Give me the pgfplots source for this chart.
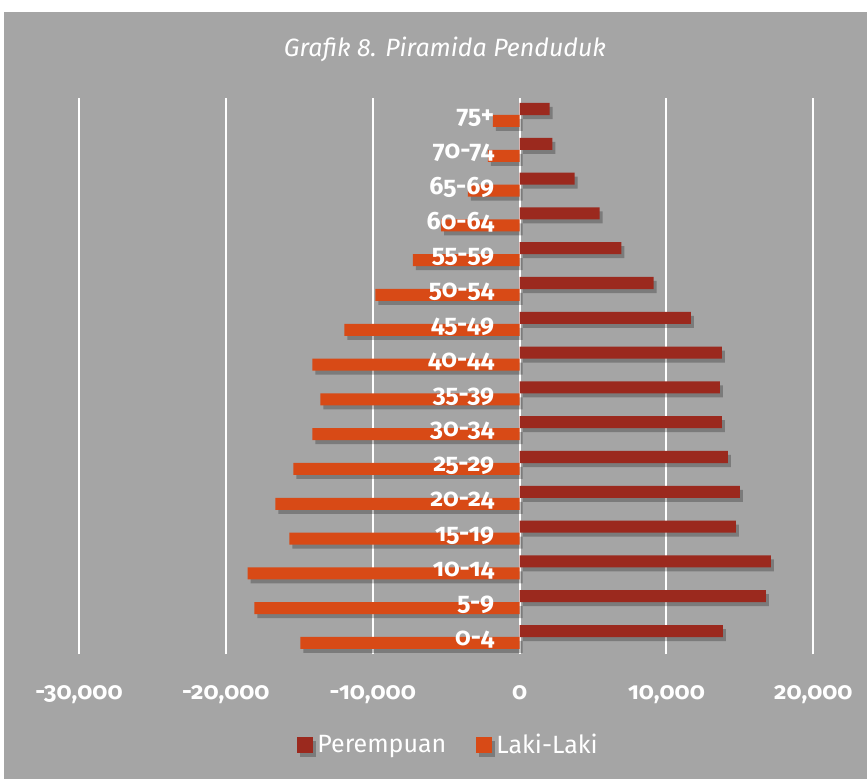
\documentclass[border=0pt]{standalone}
\usepackage{fontspec}
\setmainfont{Fira Sans}[Numbers=OldStyle]
\usepackage{pgfplots}
\pgfplotsset{compat=1.18}
\usetikzlibrary{shadows}
\definecolor{bgray}{HTML}{A5A5A5}
\definecolor{cper}{HTML}{9B291E}
\definecolor{claki}{HTML}{D84A16}
\tikzset{agelab/.style={anchor=east, inner sep=0pt, xshift=-12.5pt, yshift=-1.5pt, font=\bfseries\fontsize{12.5}{14}\selectfont, text=white}}

\begin{document}
\begin{tikzpicture}
\useasboundingbox (0,0) rectangle (433.5pt,389.5pt);
\fill[white] (0,0) rectangle (433.5pt,389.5pt);
\fill[bgray] (2pt,0) rectangle (433.5pt,383.5pt);
\node[font=\itshape\fontsize{12.5}{15}\selectfont, text=white] at (222.5pt,365pt) {Grafik 8. Piramida Penduduk};
\begin{axis}[
    scale only axis,
    width=392.85pt, height=278.4pt,
    at={(39.5pt,62.3pt)}, anchor=south west,
    xmin=-30000, xmax=23500,
    ymin=-0.5, ymax=15.5,
    xbar, bar width=0.345,
    axis line style={draw=none},
    major tick length=0pt,
    xtick={-30000,-20000,...,20000},
    ytick=\empty,
    scaled x ticks=false,
    /pgf/number format/1000 sep={,},
    /pgf/number format/assume math mode=true,
    xmajorgrids,
    grid style={white, line width=1pt},
    xticklabel style={anchor=base, yshift=-22.5pt, font=\bfseries\fontsize{12}{14}\selectfont, text=white},
    legend columns=2,
    legend style={at={(0.4716,-0.1627)}, anchor=center, draw=none, fill=none,
        text=white, font=\fontsize{12.5}{14}\selectfont,
        /tikz/every even column/.append style={column sep=13pt}},
]
% Perempuan
\addplot[bar shift=0.172, fill=cper, draw=none,
    drop shadow={shadow xshift=1.5pt, shadow yshift=-2pt, fill=black, opacity=0.25},
    legend image code/.code={\fill[cper] (-1pt,-4pt) rectangle (7pt,4pt);}] coordinates {
    (13840,0) (16770,1) (17110,2) (14720,3) (15000,4) (14180,5) (13770,6) (13630,7)
    (13770,8) (11660,9) (9135,10) (6933,11) (5453,12) (3749,13) (2229,14) (2045,15)
};
% Laki-Laki
\addplot[bar shift=-0.172, fill=claki, draw=none,
    drop shadow={shadow xshift=1.5pt, shadow yshift=-2pt, fill=black, opacity=0.25},
    legend image code/.code={\fill[claki] (-1pt,-4pt) rectangle (7pt,4pt);}] coordinates {
    (-14929,0) (-18064,1) (-18521,2) (-15678,3) (-16633,4) (-15406,5) (-14110,6) (-13565,7)
    (-14110,8) (-11929,9) (-9816,10) (-7273,11) (-5337,12) (-3524,13) (-2161,14) (-1820,15)
};
\legend{Perempuan, Laki-Laki}
% age group labels, drawn over the bars
\node[agelab] at (axis cs:0,0) {0-4};
\node[agelab] at (axis cs:0,1) {5-9};
\node[agelab] at (axis cs:0,2) {10-14};
\node[agelab] at (axis cs:0,3) {15-19};
\node[agelab] at (axis cs:0,4) {20-24};
\node[agelab] at (axis cs:0,5) {25-29};
\node[agelab] at (axis cs:0,6) {30-34};
\node[agelab] at (axis cs:0,7) {35-39};
\node[agelab] at (axis cs:0,8) {40-44};
\node[agelab] at (axis cs:0,9) {45-49};
\node[agelab] at (axis cs:0,10) {50-54};
\node[agelab] at (axis cs:0,11) {55-59};
\node[agelab] at (axis cs:0,12) {60-64};
\node[agelab] at (axis cs:0,13) {65-69};
\node[agelab] at (axis cs:0,14) {70-74};
\node[agelab] at (axis cs:0,15) {75+};
\end{axis}
\end{tikzpicture}
\end{document}
